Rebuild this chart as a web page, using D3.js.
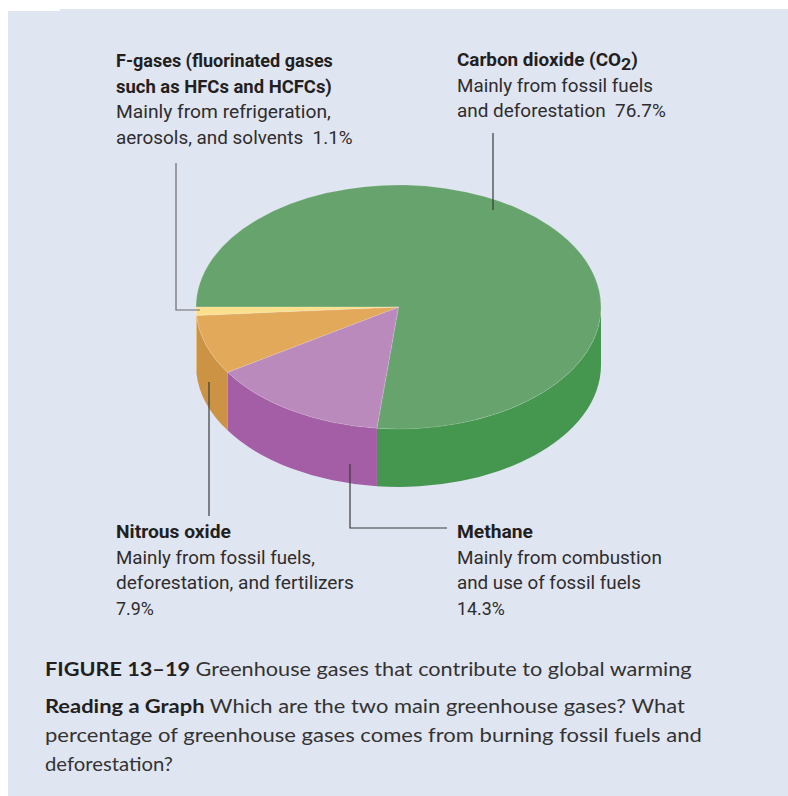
<!DOCTYPE html>
<html>
<head>
<meta charset="utf-8">
<script src="https://cdn.jsdelivr.net/npm/d3@7"></script>
<style>
  html, body { margin: 0; padding: 0; background: #ffffff; }
  svg { display: block; }
</style>
</head>
<body>
<svg id="chart" width="788" height="796"></svg>
<script>
// ---------------- data ----------------
const categories = ["Carbon dioxide (CO2)", "Methane", "Nitrous oxide", "F-gases"];
const values = [76.7, 14.3, 7.9, 1.1];
const topColors = ["#67a36c", "#bb8abd", "#e3a95b", "#fde08d"];
const sideColors = ["#45964f", "#a35ea5", "#cc9345", "#f3cf74"];

const labelTitles = [
  ["Carbon dioxide (CO|2|)"],
  ["Methane"],
  ["Nitrous oxide"],
  ["F-gases (fluorinated gases", "such as HFCs and HCFCs)"]
];
const labelBodies = [
  ["Mainly from fossil fuels", "and deforestation  76.7%"],
  ["Mainly from combustion", "and use of fossil fuels", "14.3%"],
  ["Mainly from fossil fuels,", "deforestation, and fertilizers", "7.9%"],
  ["Mainly from refrigeration,", "aerosols, and solvents  1.1%"]
];
const captionLines = [
  ["FIGURE 13\u201319", " Greenhouse gases that contribute to global warming"],
  ["Reading a Graph", " Which are the two main greenhouse gases? What"],
  ["", "percentage of greenhouse gases comes from burning fossil fuels and"],
  ["", "deforestation?"]
];

// ---------------- layout ----------------
const svg = d3.select("#chart");
const cx = 398.5, cy = 307, rx = 202.5, ry = 122, depth = 58;

// background panel
svg.append("path")
  .attr("d", "M8,11 H60 V9 H788 V796 H8 Z")
  .attr("fill", "#e0e5f2");

const pie = d3.pie().sort(null).value(d => d)
  .startAngle(-Math.PI / 2).endAngle(3 * Math.PI / 2);
const arcs = pie(values);

const px = a => cx + rx * Math.sin(a);
const py = (a, dz = 0) => cy - ry * Math.cos(a) + dz;

// side walls (front half only)
const sideG = svg.append("g");
arcs.forEach((d, i) => {
  const s = Math.max(d.startAngle, Math.PI / 2);
  const e = Math.min(d.endAngle, 3 * Math.PI / 2);
  if (e <= s) return;
  const large = (e - s) > Math.PI ? 1 : 0;
  const p1 = `M${px(s)},${py(s)} A${rx},${ry} 0 ${large} 1 ${px(e)},${py(e)} ` +
             `L${px(e)},${py(e, depth)} A${rx},${ry} 0 ${large} 0 ${px(s)},${py(s, depth)} Z`;
  sideG.append("path").attr("d", p1).attr("fill", sideColors[i]);
});

// top faces
const topG = svg.append("g");
arcs.forEach((d, i) => {
  const s = d.startAngle, e = d.endAngle;
  const large = (e - s) > Math.PI ? 1 : 0;
  const p = `M${cx},${cy} L${px(s)},${py(s)} A${rx},${ry} 0 ${large} 1 ${px(e)},${py(e)} Z`;
  topG.append("path").attr("d", p).attr("fill", topColors[i])
    .attr("stroke", "rgba(255,255,255,0.25)").attr("stroke-width", 0.6);
});

// leader lines
const leaders = [
  {pts: [[493, 133], [493, 210]], c: "#3a3a3a"},
  {pts: [[350, 464], [350, 528], [447, 528]], c: "#3a3a3a"},
  {pts: [[209, 382], [209, 516]], c: "#3a3a3a"},
  {pts: [[176, 163], [176, 310], [200, 310]], c: "#6a6a6a"}
];
leaders.forEach(l => {
  svg.append("path").attr("d", d3.line()(l.pts))
    .attr("fill", "none").attr("stroke", l.c).attr("stroke-width", 1.2);
});

// label text
const labelFont = "Roboto, 'Liberation Sans', Arial, sans-serif";
const labelPos = [
  {x: 457, y: 66, widths: [181, 196, 209]},
  {x: 457, y: 538, widths: [76, 205, 184, 48]},
  {x: 116, y: 538, widths: [115, 199, 238, 38]},
  {x: 116, y: 67, widths: [217, 216, 215, 237]}
];
const lineH = 25.5;

function fit(textSel, w) {
  const bw = textSel.node().getBBox().width;
  return bw > 0 ? w / bw : 1;
}

labelTitles.forEach((titles, i) => {
  const pos = labelPos[i];
  const lines = titles.map(t => ({t, bold: true})).concat(labelBodies[i].map(t => ({t, bold: false})));
  lines.forEach((ln, j) => {
    const y = pos.y + j * lineH;
    const g = svg.append("g");
    const txt = g.append("text")
      .attr("x", 0).attr("y", 0)
      .attr("font-family", labelFont)
      .attr("font-size", 17.5)
      .attr("font-weight", ln.bold ? "bold" : "normal")
      .attr("fill", ln.bold ? "#231f20" : "#2e2c2d")
      .style("white-space", "pre");
    if (ln.t.includes("|")) {
      const parts = ln.t.split("|");
      txt.append("tspan").text(parts[0]);
      txt.append("tspan").attr("dy", 4).attr("font-size", 16.5).text(parts[1]);
      txt.append("tspan").attr("dy", -4).text(parts[2]);
    } else {
      txt.text(ln.t);
    }
    const k = fit(txt, pos.widths[j]);
    g.attr("transform", `translate(${pos.x},${y}) scale(${k},1)`);
  });
});

// caption
const capFont = "Lato, 'Open Sans', 'Noto Sans', sans-serif";
const capY = [676, 713, 742, 771];
const capW = [647, 640, 657, 128];
captionLines.forEach((cl, j) => {
  const g = svg.append("g");
  const txt = g.append("text").attr("x", 0).attr("y", 0)
    .attr("font-family", capFont).attr("font-size", 19.5).attr("fill", "#333333");
  if (cl[0]) txt.append("tspan").attr("font-weight", "bold").attr("fill", "#231f20").text(cl[0]);
  txt.append("tspan").attr("font-weight", "normal").text(cl[1]);
  const k = fit(txt, capW[j]);
  g.attr("transform", `translate(45,${capY[j]}) scale(${k},1)`);
});
</script>
</body>
</html>
